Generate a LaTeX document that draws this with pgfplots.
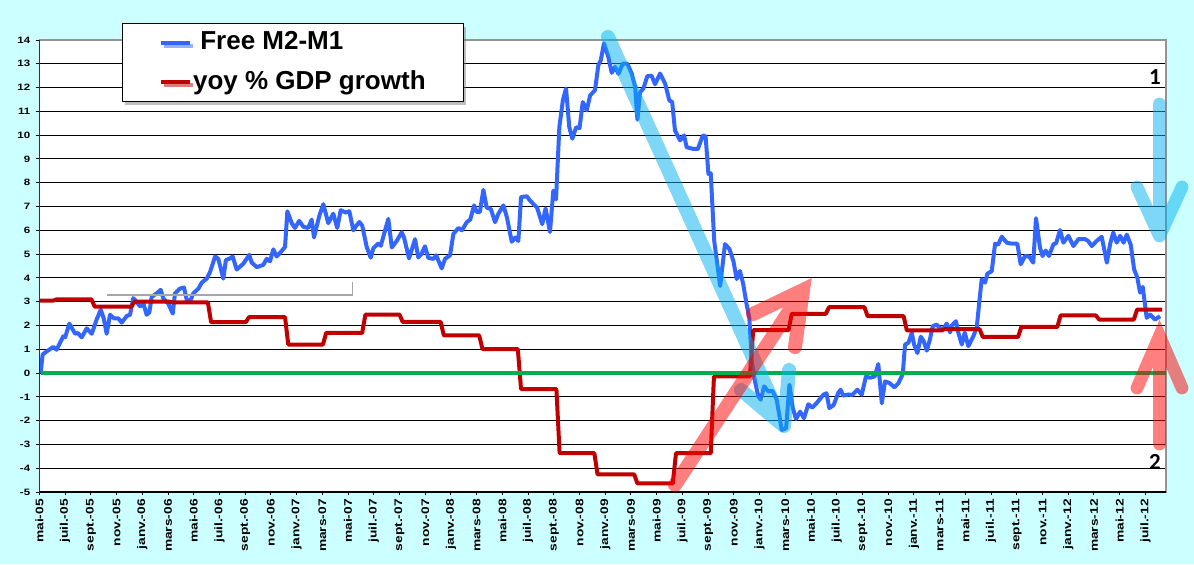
\documentclass[border=0pt]{standalone}
\usepackage{fontspec}
\setmainfont{Liberation Sans}
\newfontfamily\tickfont{Liberation Sans}[FakeStretch=1.25]
\newfontfamily\calib{Carlito}
\usepackage{pgfplots}
\pgfplotsset{compat=1.18}
\usetikzlibrary{shadows}
\definecolor{bgc}{RGB}{204,255,255}
\definecolor{m2blue}{RGB}{51,102,255}
\definecolor{gdpred}{RGB}{192,0,0}
\definecolor{zgreen}{RGB}{0,176,80}
\definecolor{arrblue}{RGB}{0,176,240}
\definecolor{arrred}{RGB}{255,0,0}
\begin{document}
\begin{tikzpicture}
\fill[bgc] (-19.7pt,-36pt) rectangle (577.3pt,246pt);
\useasboundingbox (-19.7pt,-36pt) rectangle (577.3pt,246pt);
\begin{axis}[
  scale only axis, width=563.3pt, height=226pt,
  xmin=0, xmax=87.6, ymin=-5, ymax=14,
  axis background/.style={fill=white},
  axis line style={draw=gray!85, line width=0.6pt},
  xtick={0,2,...,86},
  xticklabels={mai-05,juil.-05,sept.-05,nov.-05,janv.-06,mars-06,mai-06,juil.-06,sept.-06,nov.-06,janv.-07,mars-07,mai-07,juil.-07,sept.-07,nov.-07,janv.-08,mars-08,mai-08,juil.-08,sept.-08,nov.-08,janv.-09,mars-09,mai-09,juil.-09,sept.-09,nov.-09,janv.-10,mars-10,mai-10,juil.-10,sept.-10,nov.-10,janv.-11,mars-11,mai-11,juil.-11,sept.-11,nov.-11,janv.-12,mars-12,mai-12,juil.-12},
  ytick={-5,-4,...,14},
  tick align=outside, xtick pos=left, ytick pos=left,
  major tick length=1.6pt,
  tick style={black, line width=0.5pt},
  ymajorgrids, grid style={black, line width=0.5pt},
  x tick label style={rotate=90, anchor=east, font=\tickfont\bfseries\fontsize{5.5}{6}\selectfont, inner sep=0pt, xshift=-1.8pt},
  y tick label style={anchor=east, font=\tickfont\bfseries\fontsize{4.6}{5}\selectfont, inner sep=0pt, xshift=-2.8pt},
  /pgf/number format/assume math mode=true,
  legend style={at={(0.0733,1.0376)}, anchor=north west, draw=black, line width=0.5pt, fill=white,
    font=\bfseries\fontsize{13}{15}\selectfont, inner xsep=18.2pt, inner ysep=4pt, row sep=8.6pt,
    cells={anchor=west}, nodes={inner sep=0.6pt, text height=0.85em, text depth=0.15em},
    drop shadow={shadow xshift=1.5pt, shadow yshift=-1.5pt, fill=black!50, opacity=0.5}},
  legend image code/.code={\draw[#1, line width=2pt] (0pt,0pt) -- (14.5pt,0pt);},
]
\addplot[m2blue, line width=2pt, line join=round] coordinates {
(0.1,0.0) (0.25,0.78) (0.57,0.91) (1.08,1.1) (1.34,0.98) (1.86,1.55) (2.0,1.5) (2.33,2.08) (2.77,1.66) (3.0,1.68)
(3.29,1.5) (3.68,1.88) (4.07,1.65) (4.45,2.25) (4.77,2.66) (5.0,2.3) (5.23,1.65) (5.49,2.45) (5.8,2.3) (6.14,2.3)
(6.4,2.12) (6.79,2.4) (7.05,2.45) (7.3,3.15) (7.55,3.0) (7.82,2.8) (8.1,2.9) (8.34,2.45) (8.55,2.55) (8.73,3.2)
(9.12,3.35) (9.43,3.5) (9.64,3.13) (10.02,2.92) (10.37,2.5) (10.54,3.35) (10.93,3.55) (11.24,3.6) (11.45,3.1) (11.71,3.0)
(11.97,3.35) (12.36,3.55) (12.62,3.8) (13.01,3.97) (13.27,4.25) (13.66,4.9) (13.91,4.8) (14.1,4.4) (14.3,3.97) (14.5,4.75)
(14.82,4.82) (15.03,4.9) (15.34,4.35) (15.86,4.6) (16.32,4.97) (16.5,4.65) (16.9,4.45) (17.41,4.55) (17.67,4.8) (17.93,4.7)
(18.19,5.2) (18.45,4.9) (18.71,5.05) (19.1,5.3) (19.28,6.8) (19.62,6.3) (19.87,6.1) (20.2,6.4) (20.52,6.15) (20.9,6.1)
(21.17,6.45) (21.35,5.7) (21.76,6.6) (22.08,7.1) (22.46,6.3) (22.85,6.7) (23.16,6.1) (23.43,6.85) (23.8,6.75) (24.1,6.8)
(24.41,6.0) (24.65,6.2) (24.88,6.35) (25.1,6.2) (25.45,5.3) (25.76,4.85) (25.97,5.25) (26.36,5.45) (26.55,5.35) (26.8,5.85)
(27.13,6.48) (27.4,5.28) (27.78,5.55) (28.17,5.92) (28.35,5.7) (28.74,4.82) (29.21,5.63) (29.46,4.86) (29.7,5.0) (29.98,5.33)
(30.24,4.84) (30.63,4.8) (30.85,4.95) (31.28,4.4) (31.54,4.8) (31.93,4.95) (32.19,5.85) (32.58,6.1) (32.85,6.0) (33.23,6.34)
(33.5,6.45) (33.8,7.05) (34.01,6.77) (34.25,6.77) (34.52,7.7) (34.78,6.95) (35.1,6.9) (35.43,6.34) (35.69,6.7) (36.08,7.05)
(36.35,6.55) (36.73,5.52) (37.0,5.7) (37.24,5.55) (37.45,7.4) (37.9,7.43) (38.15,7.25) (38.46,7.08) (38.7,6.95) (39.1,6.26)
(39.36,6.92) (39.7,5.93) (39.96,7.67) (40.17,7.3) (40.43,10.34) (40.7,11.46) (40.95,11.96) (41.2,10.34) (41.44,9.85) (41.73,10.33)
(42.0,10.3) (42.25,11.39) (42.56,11.04) (42.82,11.67) (43.2,11.89) (43.46,12.94) (43.65,13.15) (43.9,13.86) (44.24,13.29) (44.5,12.62)
(44.76,12.87) (45.02,12.58) (45.36,13.01) (45.72,13.0) (46.06,12.58) (46.32,12.03) (46.5,10.65) (46.7,11.81) (46.96,11.96) (47.27,12.48)
(47.6,12.5) (47.87,12.14) (48.26,12.59) (48.65,12.17) (48.98,11.46) (49.2,11.4) (49.42,10.2) (49.81,9.78) (50.13,9.99) (50.33,9.49)
(50.85,9.42) (51.2,9.42) (51.58,9.99) (51.8,9.95) (52.02,8.37) (52.2,8.4) (52.47,5.56) (52.93,3.66) (53.31,5.42) (53.65,5.22)
(53.96,4.71) (54.22,3.95) (54.47,4.29) (54.73,3.73) (54.99,2.88) (55.2,2.32) (55.39,0.49) (55.64,-0.35) (55.9,-0.98) (56.09,-1.12)
(56.35,-0.56) (56.68,-0.77) (57.0,-0.75) (57.33,-1.12) (57.72,-2.39) (58.06,-2.32) (58.32,-0.49) (58.58,-1.47) (58.83,-1.93) (59.15,-1.62)
(59.45,-1.9) (59.79,-1.31) (60.1,-1.45) (60.44,-1.26) (60.96,-0.91) (61.2,-0.85) (61.42,-1.47) (61.75,-1.35) (62.12,-0.83) (62.3,-0.7)
(62.5,-0.95) (62.9,-0.9) (63.2,-0.92) (63.6,-0.7) (63.94,-0.91) (64.27,-0.14) (64.58,-0.2) (64.95,-0.14) (65.23,0.38) (65.5,-1.27)
(65.75,-0.35) (66.1,-0.42) (66.48,-0.6) (66.8,-0.42) (67.13,-0.04) (67.31,1.2) (67.57,1.27) (67.83,1.69) (68.01,1.2) (68.27,0.84)
(68.53,1.53) (68.75,1.35) (69.0,0.94) (69.26,1.45) (69.46,1.97) (69.77,2.04) (70.0,1.9) (70.24,1.83) (70.55,2.08) (70.81,1.71)
(70.95,2.0) (71.27,2.18) (71.45,1.7) (71.72,1.2) (71.95,1.7) (72.23,1.13) (72.62,1.55) (72.88,1.9) (73.09,3.03) (73.27,3.94)
(73.53,3.8) (73.71,4.18) (74.05,4.28) (74.31,5.44) (74.55,5.4) (74.83,5.73) (75.22,5.48) (75.6,5.44) (76.04,5.44) (76.3,4.57)
(76.64,4.92) (76.95,4.9) (77.28,4.64) (77.49,6.51) (77.8,5.27) (78.0,4.92) (78.25,5.15) (78.5,4.92) (78.85,5.42) (79.05,5.45)
(79.36,6.01) (79.62,5.48) (80.01,5.77) (80.4,5.34) (80.79,5.63) (81.31,5.63) (81.55,5.55) (81.83,5.34) (82.2,5.55) (82.6,5.73)
(83.0,4.64) (83.26,5.44) (83.5,5.91) (83.77,5.48) (84.03,5.77) (84.3,5.48) (84.55,5.82) (84.86,5.39) (85.12,4.36) (85.37,4.01)
(85.58,3.38) (85.79,3.62) (86.1,2.32) (86.36,2.46) (86.75,2.25) (87.14,2.39)
};
\addlegendentry{\ Free M2-M1}
\addplot[gdpred, line width=2pt, line join=round] coordinates {
(0.05,3.05) (1.1,3.05) (1.35,3.10) (4.05,3.10) (4.3,2.79) (7.15,2.79) (7.4,3.00) (10.1,3.00) (10.35,2.97) (13.1,2.97)
(13.35,2.14) (16.05,2.14) (16.3,2.35) (19.1,2.35) (19.35,1.20) (22.05,1.20) (22.3,1.69) (25.1,1.69) (25.35,2.46) (28.0,2.46)
(28.25,2.15) (31.2,2.15) (31.45,1.58) (34.2,1.58) (34.45,1.01) (37.2,1.01) (37.45,-0.67) (40.2,-0.67) (40.45,-3.37) (43.15,-3.37)
(43.4,-4.26) (46.25,-4.26) (46.5,-4.64) (49.25,-4.64) (49.5,-3.37) (52.2,-3.37) (52.45,-0.14) (55.25,-0.14) (55.5,1.80) (58.25,1.80)
(58.5,2.49) (61.15,2.49) (61.4,2.77) (64.15,2.77) (64.4,2.39) (67.2,2.39) (67.45,1.79) (70.15,1.79) (70.4,1.85) (73.1,1.85)
(73.35,1.52) (76.1,1.52) (76.35,1.94) (79.15,1.94) (79.4,2.42) (82.15,2.42) (82.4,2.25) (85.1,2.25) (85.35,2.67) (87.3,2.67)
};
\addlegendentry{yoy \% GDP growth}
\addplot[zgreen, line width=2.3pt, forget plot] coordinates {(0.12,0) (87.75,0)};
\draw[black, line width=0.6pt] (rel axis cs:0,0) -- (rel axis cs:1,0);
\draw[black, line width=0.6pt] (rel axis cs:0,0) -- (rel axis cs:0,1);
\end{axis}
\begin{scope}[x=0.5pt, y=-0.5pt, shift={(-39.4,-492)}]
  \draw[gray!70, line width=0.6pt] (107,295) -- (352.5,295) -- (352.5,282);
  \draw[arrblue, opacity=0.5, line width=7pt, line cap=round, line join=round]
     (608,37) -- (784,426) (741,390) -- (784,426) -- (789,370);
  \draw[arrred, opacity=0.5, line width=7pt, line cap=round, line join=miter]
     (675,485) -- (803,290) (753,314) -- (803,290) -- (795,347);
  \draw[arrblue, opacity=0.5, line width=6.4pt, line cap=round, line join=round]
     (1159.5,104) -- (1159.5,236) (1137,187) -- (1159.5,236) -- (1182,187);
  \draw[arrred, opacity=0.5, line width=6.4pt, line cap=round, line join=miter]
     (1159.5,444) -- (1159.5,336) (1137,388) -- (1159.5,336) -- (1182,388);
  \node[font=\calib\bfseries\fontsize{11.5}{12}\selectfont, inner sep=0pt] at (1155,77) {1};
  \node[font=\calib\bfseries\fontsize{11.5}{12}\selectfont, inner sep=0pt] at (1155,462) {2};
\end{scope}
\end{tikzpicture}
\end{document}
